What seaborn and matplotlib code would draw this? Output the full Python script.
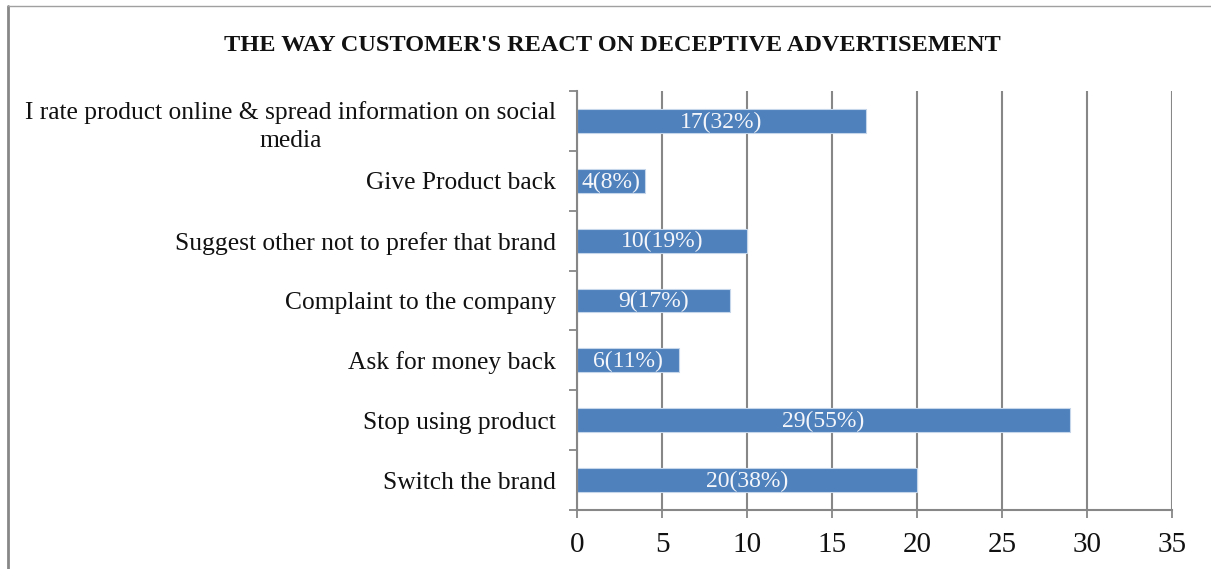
import matplotlib
matplotlib.use("Agg")
import matplotlib.pyplot as plt
from matplotlib.lines import Line2D
import seaborn as sns
import pandas as pd

# Survey responses: count of customers and share of respondents
reactions = [
    "I rate product online & spread information on social\nmedia",
    "Give Product back",
    "Suggest other not to prefer that brand",
    "Complaint to the company",
    "Ask for money back",
    "Stop using product",
    "Switch the brand",
]
counts = [17, 4, 10, 9, 6, 29, 20]
percents = [32, 8, 19, 17, 11, 55, 38]
x_ticks = [0, 5, 10, 15, 20, 25, 30, 35]

title = "THE WAY CUSTOMER'S REACT ON DECEPTIVE ADVERTISEMENT"

df = pd.DataFrame({"reaction": reactions, "count": counts, "pct": percents})

sns.set_theme(style="white")
plt.rcParams["font.family"] = ["Liberation Serif", "DejaVu Serif"]

grid_grey = "#878787"
bar_blue = "#4f81bd"

fig = plt.figure(figsize=(12.11, 5.69), dpi=100)
ax = fig.add_axes([0.4765, 0.1037, 0.4913, 0.7363])

sns.barplot(data=df, y="reaction", x="count", order=reactions, orient="h",
            color=bar_blue, saturation=1, width=0.4,
            edgecolor="#c5d5ea", linewidth=0.8, ax=ax, zorder=3)

# value labels centred in each bar
for i, (c, p) in enumerate(zip(counts, percents)):
    ax.text(c / 2, i + 0.02, f"{c}({p}%)", ha="center", va="center",
            color="#f4f6fa", fontsize=17, zorder=4)

ax.set_xlim(0, 35)
ax.set_ylim(len(reactions) - 0.5, -0.5)
ax.set_xticks(x_ticks)
ax.set_xticklabels([str(t) for t in x_ticks], fontsize=21)
ax.set_xlabel("")
ax.set_ylabel("")

# category labels (no tick marks) + boundary ticks between categories
ax.set_yticks(range(len(reactions)))
ax.set_yticklabels(reactions, fontsize=18.4, multialignment="center",
                   color="#111111", linespacing=1.35)
ax.set_yticks([i - 0.5 for i in range(len(reactions) + 1)], minor=True)
ax.tick_params(axis="y", which="major", length=0, pad=15)
ax.tick_params(axis="y", which="minor", left=True, length=6, width=1.3,
               color=grid_grey, direction="out")
ax.tick_params(axis="x", which="major", bottom=True, length=6, width=1.3,
               color=grid_grey, direction="out", pad=10, labelcolor="#111111")

ax.xaxis.grid(True, color=grid_grey, linewidth=1.5, zorder=0)
ax.yaxis.grid(False)
ax.set_axisbelow(True)

for side in ("top", "right"):
    ax.spines[side].set_visible(False)
for side in ("left", "bottom"):
    ax.spines[side].set_color(grid_grey)
    ax.spines[side].set_linewidth(1.5)
    ax.spines[side].set_zorder(5)

fig.text(0.5055, 0.920, title, ha="center", va="center",
         fontsize=17.5, fontweight="bold", color="#111111")

# outer chart frame (left and top edges)
x0 = 7.5 / 1211
y0 = 1 - 5.5 / 569
fig.add_artist(Line2D([x0, x0], [0, y0], transform=fig.transFigure,
                      color=grid_grey, linewidth=2))
fig.add_artist(Line2D([x0, 1], [y0, y0], transform=fig.transFigure,
                      color="#a0a0a0", linewidth=1))

fig.savefig("out.png", dpi=100, facecolor="white")
